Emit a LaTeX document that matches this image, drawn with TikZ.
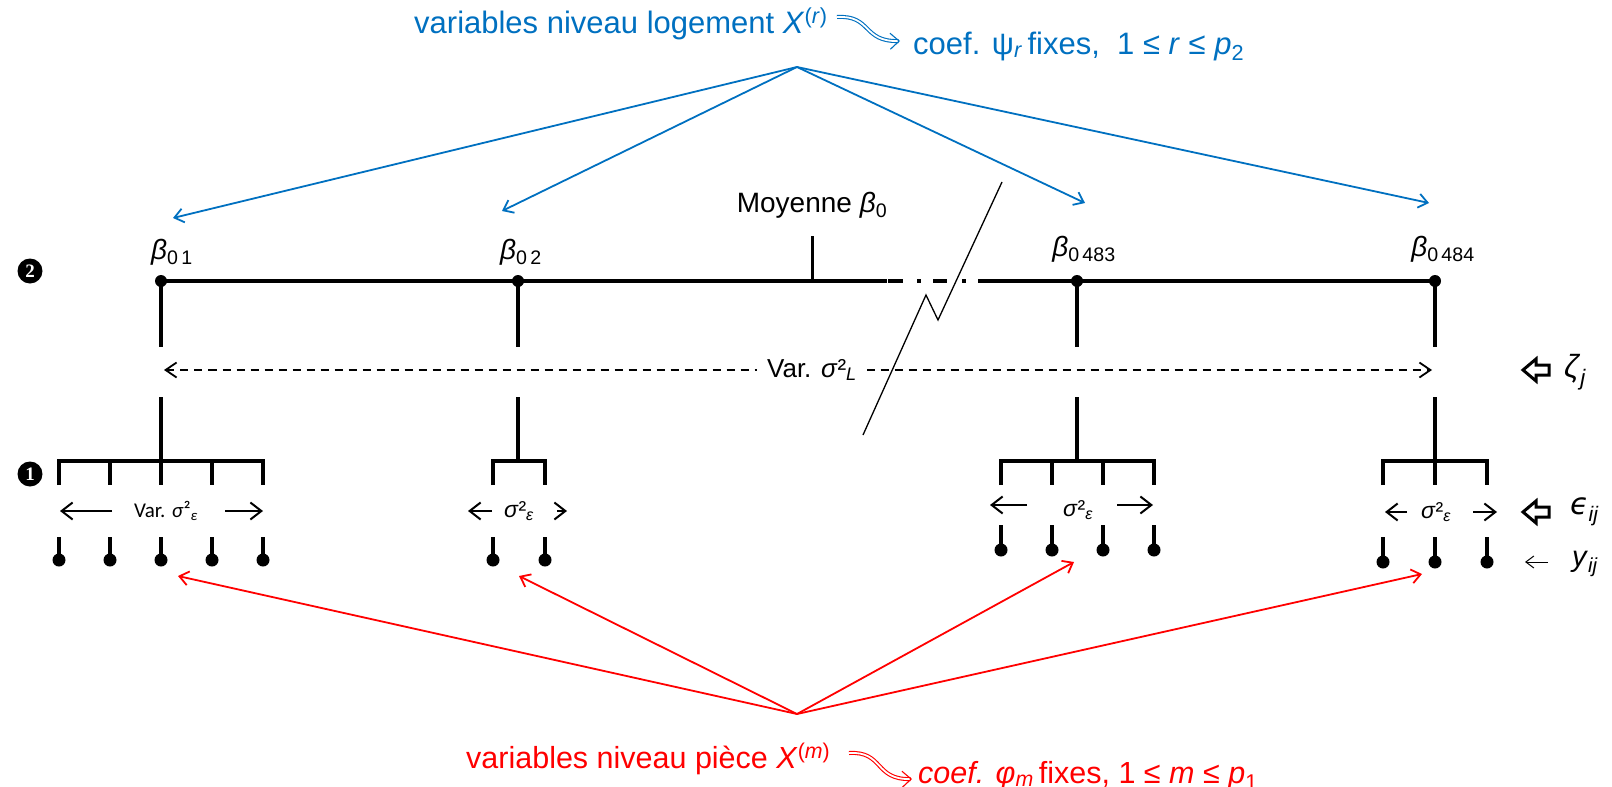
\documentclass[tikz,border=0pt]{standalone}
\usepackage{fontspec}
\setmainfont{Liberation Sans}
\newfontfamily\carl{Carlito}
\newfontfamily\dvs{DejaVu Sans}
\newfontfamily\lserif{Liberation Serif}
\usetikzlibrary{arrows.meta}
\definecolor{myblue}{RGB}{0,112,192}
\definecolor{myred}{RGB}{255,0,0}
\tikzset{
  blk/.style={line width=4pt, line join=miter},
  bluetxt/.style={text=myblue, font=\fontsize{31}{36}\selectfont, inner sep=0pt},
  redtxt/.style={text=myred, font=\fontsize{30.5}{36}\selectfont, inner sep=0pt},
  betatxt/.style={font=\fontsize{28}{32}\selectfont, inner sep=0pt},
  bluearrow/.style={myblue, line width=1.8pt, -{Straight Barb[length=9pt,width=14pt]}},
  redarrow/.style={myred, line width=1.8pt, -{Straight Barb[length=9pt,width=14pt]}},
  garrow/.style={line width=2pt, -{Straight Barb[length=11pt,width=17pt]}},
  smalltxt/.style={font=\fontsize{23}{26}\selectfont, inner sep=0pt},
  numtxt/.style={text=white, inner sep=0pt, font=\lserif\bfseries\fontsize{19}{19}\selectfont},
  hollow/.style={line width=3pt, line join=miter},
  squig/.style={line width=1.1pt, double, double distance=1.8pt, -{Straight Barb[length=9pt,width=16pt]}},
}
\begin{document}
\begin{tikzpicture}[x=1pt,y=-1pt]
\useasboundingbox (0,0) rectangle (1612,787);

% ---------- key coordinates
\coordinate (n1) at (161,281);
\coordinate (n2) at (518,281);
\coordinate (n3) at (1077,281);
\coordinate (n4) at (1435,281);
\coordinate (bsrc) at (797,67);
\coordinate (rsrc) at (797,714);
\coordinate (bt1) at (173,218);
\coordinate (bt2) at (502,211);
\coordinate (bt3) at (1085,203);
\coordinate (bt4) at (1429,203);
\coordinate (rt1) at (178,576);
\coordinate (rt2) at (519,576);
\coordinate (rt3) at (1074,562);
\coordinate (rt4) at (1422,574);

% ---------- top blue texts
\node[bluetxt, anchor=base west] (toptxt) at (414,33) {variables niveau logement \textit{X}\textsuperscript{(\textit{r})}};
\node[bluetxt, anchor=base west] (topcoef) at (913,54) {coef. ψ\textsubscript{\textit{r}}\,fixes,~ 1 ≤ \textit{r} ≤ \textit{p}\textsubscript{2}};
\coordinate (bs1) at (837,17);
\coordinate (bs2) at (900,41);
\draw[squig, myblue] (bs1) .. controls (872,15) and (862,42) .. (bs2);

% ---------- bottom red texts
\node[redtxt, anchor=base west] (bottxt) at (466,768) {variables niveau pièce \textit{X}\textsuperscript{(\textit{m})}};
\node[redtxt, anchor=base west] (botcoef) at (918,783) {\textit{coef. φ}\textsubscript{\textit{m}}\,fixes, 1 ≤ \textit{m} ≤ \textit{p}\textsubscript{1}};
\coordinate (rs1) at (849,753);
\coordinate (rs2) at (912,779);
\draw[squig, myred] (rs1) .. controls (884,751) and (874,780) .. (rs2);

% ---------- blue and red arrows
\foreach \t in {bt1,bt2,bt3,bt4} \draw[bluearrow] (bsrc) -- (\t);
\foreach \t in {rt1,rt2,rt3,rt4} \draw[redarrow] (rsrc) -- (\t);

% ---------- level 2 line
\draw[blk] (n1) -- (887,281);
\draw[blk] (888,281) -- (903,281);
\draw[blk] (917,281) -- (921,281);
\draw[blk] (933,281) -- (947,281);
\draw[blk] (962,281) -- (966,281);
\draw[blk] (978,281) -- (n4);
\foreach \n in {n1,n2,n3,n4} \fill (\n) circle (6pt);

% mean
\coordinate (mtop) at (812,236);
\draw[line width=3pt] (mtop) -- (812,281);
\node[betatxt] (moy) at (812,205) {Moyenne \textit{β}\textsubscript{0}};

% beta labels
\node[betatxt] (b1) at (172,252) {\textit{β}\textsubscript{0\,1}};
\node[betatxt] (b2) at (521,252) {\textit{β}\textsubscript{0\,2}};
\node[betatxt] (b3) at (1084,249) {\textit{β}\textsubscript{0\,483}};
\node[betatxt] (b4) at (1443,249) {\textit{β}\textsubscript{0\,484}};

% stems
\foreach \x in {161,518,1077,1435}{
  \draw[blk] (\x,281) -- (\x,347);
  \draw[blk] (\x,397) -- (\x,461);
}

% dashed variance arrow
\coordinate (dl) at (164,370);
\coordinate (dr) at (1432,370);
\draw[line width=1.8pt, dash pattern=on 8pt off 6pt, {Straight Barb[length=11pt,width=15pt]}-{Straight Barb[length=11pt,width=15pt]}] (dl) -- (dr);
\node[fill=white, inner xsep=10pt, inner ysep=2pt, font=\fontsize{26}{30}\selectfont] (varL) at (812,370) {Var. \textit{σ}²\textsubscript{\textit{L}}};

% break line
\draw[line width=1.3pt] (1002,182) -- (938,320) -- (926,295) -- (863,435);

% ---------- group 1
\draw[blk] (59,485) -- (59,461) -- (263,461) -- (263,485);
\draw[blk] (110,461) -- (110,485);
\draw[blk] (212,461) -- (212,485);
\draw[blk] (161,461) -- (161,485);
\draw[garrow] (112,511) -- (60,511);
\draw[garrow] (225,511) -- (263,511);
\node[inner sep=0pt, font=\carl\fontsize{21}{24}\selectfont] (g1t) at (166,511) {Var. \textit{σ}²\textsubscript{\textit{ε}}};
\foreach \x in {59,110,161,212,263}{
  \draw[blk] (\x,537) -- (\x,558);
  \fill (\x,560) circle (6.5pt);
}

% ---------- group 2
\draw[blk] (493,485) -- (493,461) -- (545,461) -- (545,485);
\draw[garrow] (492,511) -- (468,511);
\draw[garrow] (557,511) -- (567,511);
\node[smalltxt] (g2t) at (519,511) {\textit{σ}²\textsubscript{\textit{ε}}};
\foreach \x in {493,545}{
  \draw[blk] (\x,537) -- (\x,558);
  \fill (\x,560) circle (6.5pt);
}

% ---------- group 3
\draw[blk] (1001,485) -- (1001,461) -- (1154,461) -- (1154,485);
\draw[blk] (1052,461) -- (1052,485);
\draw[blk] (1103,461) -- (1103,485);
\draw[garrow] (1027,505) -- (990,505);
\draw[garrow] (1117,505) -- (1153,505);
\node[smalltxt] (g3t) at (1078,510) {\textit{σ}²\textsubscript{\textit{ε}}};
\foreach \x in {1001,1052,1103,1154}{
  \draw[blk] (\x,525) -- (\x,548);
  \fill (\x,550) circle (6.5pt);
}

% ---------- group 4
\draw[blk] (1383,485) -- (1383,461) -- (1487,461) -- (1487,485);
\draw[blk] (1435,461) -- (1435,485);
\draw[garrow] (1407,512) -- (1385,512);
\draw[garrow] (1473,512) -- (1497,512);
\node[smalltxt] (g4t) at (1436,512) {\textit{σ}²\textsubscript{\textit{ε}}};
\foreach \x in {1383,1435,1487}{
  \draw[blk] (\x,537) -- (\x,560);
  \fill (\x,562) circle (6.5pt);
}

% ---------- level markers
\coordinate (c2) at (30,271);
\coordinate (c1) at (30,474);
\fill (c2) circle (12.5pt);
\fill (c1) circle (12.5pt);
\node[numtxt] (c2t) at (c2) {2};
\node[numtxt] (c1t) at (c1) {1};

% ---------- right labels
\coordinate (h1) at (1523,370);
\coordinate (h2) at (1523,512);
\foreach \h in {h1,h2}
  \draw[hollow] (\h) -- ++(13,-11) -- ++(0,6) -- ++(13,0) -- ++(0,10) -- ++(-13,0) -- ++(0,6) -- cycle;
\node[anchor=west, inner sep=0pt, font=\fontsize{32}{36}\selectfont] (zeta) at (1564,372) {\textit{ζ}\textsubscript{\textit{j}}};
\node[anchor=west, inner sep=0pt, font=\fontsize{30}{34}\selectfont] (eps) at (1570,512) {{\dvs\itshape ϵ}\textsubscript{\textit{ij}}};
\coordinate (ya) at (1548,562);
\coordinate (yb) at (1525,562);
\draw[line width=1pt, -{Straight Barb[length=8pt,width=12pt]}] (ya) -- (yb);
\node[anchor=west, inner sep=0pt, font=\fontsize{29}{34}\selectfont] (yij) at (1572,564) {\textit{y}\textsubscript{\textit{ij}}};
\end{tikzpicture}
\end{document}
